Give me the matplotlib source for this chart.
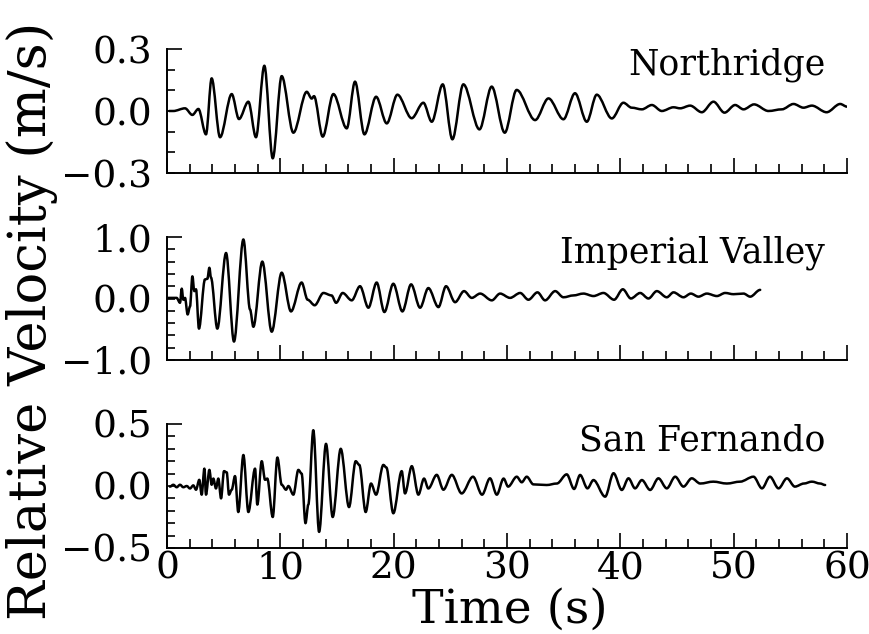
import matplotlib
matplotlib.use("Agg")
import matplotlib.pyplot as plt
from matplotlib.path import Path
from matplotlib.patches import PathPatch

plt.rcParams['font.family'] = ['DejaVu Serif']

# velocity traces, peaks/troughs (time in s, velocity in m/s)
t_nr = [0.2, 0.56, 1.59, 2.24, 2.77, 3.44, 3.94, 4.68, 5.71, 6.35,
        7.18, 7.85, 8.59, 9.33, 10.12, 11.15, 12.33, 12.77, 12.97, 13.74,
        14.68, 15.86, 16.59, 17.42, 18.45, 19.39, 20.33, 21.59, 22.62, 23.36,
        24.33, 25.18, 26.15, 27.57, 28.65, 29.8, 30.85, 32.48, 33.66, 34.98,
        36.0, 37.04, 37.92, 39.25, 40.27, 41.0, 41.9, 42.78, 43.66, 44.69,
        45.28, 46.16, 47.19, 48.22, 49.19, 50.13, 50.87, 51.8, 53.07, 54.25,
        55.28, 56.16, 56.9, 58.2, 59.4, 60.0]
v_nr = [0.0, 0.0, 0.013, -0.019, 0.010, -0.113, 0.158, -0.127, 0.082, -0.039,
        0.045, -0.127, 0.219, -0.229, 0.169, -0.105, 0.093, 0.06, 0.072, -0.124,
        0.082, -0.084, 0.142, -0.113, 0.069, -0.060, 0.079, -0.035, 0.040, -0.052,
        0.129, -0.137, 0.129, -0.089, 0.118, -0.105, 0.102, -0.044, 0.061, -0.040,
        0.086, -0.052, 0.079, -0.036, 0.040, 0.016, 0.008, 0.029, 0.0, 0.018,
        0.013, 0.026, -0.006, 0.045, -0.008, 0.029, 0.008, 0.032, 0.0, 0.008,
        0.034, 0.016, 0.026, -0.006, 0.034, 0.021]

t_iv = [0.12, 0.85, 1.15, 1.3, 1.44, 1.59, 1.82, 2.03, 2.24, 2.41,
        2.56, 2.82, 3.35, 3.56, 3.74, 3.88, 4.44, 5.21, 5.91, 6.74,
        7.33, 7.62, 8.41, 9.24, 10.12, 10.94, 11.88, 12.41, 13.03, 13.8,
        14.52, 14.92, 15.5, 16.3, 17.03, 17.77, 18.5, 19.18, 19.97, 20.77,
        21.54, 22.33, 23.06, 23.95, 24.62, 25.42, 26.21, 26.89, 27.63, 28.66,
        29.39, 30.27, 31.16, 31.89, 32.69, 33.36, 34.25, 34.98, 35.86, 36.74,
        37.63, 38.51, 39.45, 40.22, 40.93, 41.75, 42.48, 43.22, 44.1, 44.69,
        45.57, 46.22, 46.89, 47.63, 48.52, 49.25, 49.98, 50.87, 51.46, 52.34]
v_iv = [0.01, 0.01, -0.07, 0.16, -0.02, 0.01, -0.26, -0.13, 0.36, 0.12,
        0.15, -0.49, 0.31, 0.32, 0.50, 0.34, -0.49, 0.74, -0.70, 0.96,
        -0.18, -0.46, 0.60, -0.54, 0.42, -0.21, 0.26, -0.02, -0.11, 0.09,
        0.05, -0.07, 0.09, -0.03, 0.20, -0.15, 0.26, -0.22, 0.24, -0.21,
        0.23, -0.15, 0.17, -0.14, 0.20, -0.06, 0.12, 0.01, 0.08, -0.03,
        0.08, 0.01, 0.09, -0.02, 0.10, -0.03, 0.12, 0.02, 0.05, 0.08,
        0.04, 0.09, -0.02, 0.15, 0.0, 0.09, 0.0, 0.12, 0.02, 0.10,
        0.02, 0.08, 0.03, 0.08, 0.04, 0.09, 0.07, 0.08, 0.03, 0.14]

t_sf = [0.26, 0.56, 0.85, 1.15, 1.44, 1.74, 2.03, 2.32, 2.56, 2.85,
        3.06, 3.30, 3.44, 3.74, 3.94, 4.09, 4.32, 4.53, 4.77, 5.03,
        5.27, 5.47, 5.71, 6.00, 6.29, 6.74, 7.18, 7.77, 7.97, 8.36,
        8.65, 8.85, 9.33, 9.74, 10.12, 10.50, 10.71, 11.15, 11.59, 11.88,
        12.22, 12.47, 12.91, 13.42, 14.03, 14.62, 15.33, 16.06, 16.65, 16.97,
        17.53, 18.00, 18.45, 19.09, 19.35, 19.97, 20.71, 21.00, 21.60, 22.18,
        22.68, 23.06, 23.80, 24.39, 25.13, 26.00, 27.00, 27.80, 28.50, 29.10,
        29.70, 30.10, 30.86, 31.30, 31.74, 32.33, 33.50, 34.40, 35.27, 35.92,
        36.45, 37.10, 37.63, 38.66, 39.40, 40.13, 40.72, 41.30, 41.90, 42.63,
        43.36, 44.10, 44.84, 45.57, 46.30, 47.05, 48.20, 49.40, 50.57, 51.75,
        52.50, 53.20, 53.96, 54.70, 55.40, 56.20, 56.90, 57.63, 58.07]
v_sf = [-0.005, 0.01, -0.01, 0.01, -0.01, 0.0, -0.02, 0.005, -0.03, 0.05,
        -0.07, 0.14, -0.07, 0.13, 0.01, 0.06, -0.02, 0.06, -0.10, 0.12,
        0.11, -0.07, -0.03, 0.08, -0.21, 0.25, -0.21, 0.14, -0.15, 0.20,
        0.05, 0.06, -0.25, 0.23, 0.01, -0.03, 0.0, -0.07, 0.13, 0.10,
        -0.30, -0.15, 0.45, -0.37, 0.34, -0.25, 0.30, -0.17, 0.20, 0.17,
        -0.21, 0.02, -0.07, 0.17, 0.15, -0.22, 0.12, -0.06, 0.16, -0.07,
        0.06, -0.02, 0.09, -0.03, 0.09, -0.06, 0.075, -0.07, 0.062, -0.07,
        0.06, -0.005, 0.075, 0.03, 0.075, 0.013, 0.008, 0.02, 0.094, -0.024,
        0.089, -0.019, 0.048, -0.086, 0.103, -0.032, 0.062, -0.019, 0.048, -0.032,
        0.062, -0.019, 0.075, -0.005, 0.062, 0.02, 0.035, 0.02, 0.035, 0.075,
        -0.019, 0.075, -0.019, 0.062, -0.005, 0.02, 0.035, 0.02, 0.008]

stations = ['Northridge', 'Imperial Valley', 'San Fernando']
y_limits = [0.3, 1.0, 0.5]
y_minor_steps = [0.1, 0.2, 0.1]
y_ticklabels = [['\u22120.3', '0.0', '0.3'],
                ['\u22121.0', '0.0', '1.0'],
                ['\u22120.5', '0.0', '0.5']]
x_ticks = [0, 10, 20, 30, 40, 50, 60]


def trace_path(t, v):
    # smooth curve through the read-off extrema (horizontal tangents at each point)
    verts = [(t[0], v[0])]
    codes = [Path.MOVETO]
    for i in range(1, len(t)):
        d = (t[i] - t[i - 1]) / 3.0
        verts += [(t[i - 1] + d, v[i - 1]), (t[i] - d, v[i]), (t[i], v[i])]
        codes += [Path.CURVE4] * 3
    return Path(verts, codes)


fig = plt.figure(figsize=(8.7, 6.34), dpi=100)
W, H = 870.0, 634.0
# axes boxes in pixels: (left, top, right, bottom)
boxes = [(167, 49, 847, 173), (167, 237, 847, 360), (167, 424, 847, 548)]
traces = [(t_nr, v_nr), (t_iv, v_iv), (t_sf, v_sf)]

for i, (l, tp, r, b) in enumerate(boxes):
    ax = fig.add_axes([l / W, 1 - b / H, (r - l) / W, (b - tp) / H])
    t, v = traces[i]
    ax.add_patch(PathPatch(trace_path(t, v), fill=False, lw=1.8, color='black',
                           capstyle='round', joinstyle='round'))
    lim = y_limits[i]
    ax.set_xlim(0, 60)
    ax.set_ylim(-lim, lim)
    for s in ['top', 'right']:
        ax.spines[s].set_visible(False)
    for s in ['left', 'bottom']:
        ax.spines[s].set_linewidth(1.4)

    ax.set_xticks(x_ticks)
    ax.set_xticks(range(0, 61, 2), minor=True)
    ax.set_yticks([-lim, 0, lim], labels=y_ticklabels[i])
    step = y_minor_steps[i]
    n = int(round(2 * lim / step))
    ax.set_yticks([-lim + k * step for k in range(n + 1)], minor=True)

    ax.tick_params(axis='x', which='major', direction='in', length=11, width=1.2,
                   labelsize=27, pad=2, labelbottom=(i == 2))
    ax.tick_params(axis='x', which='minor', direction='in', length=6.5, width=1.2)
    ax.tick_params(axis='y', which='major', direction='in', length=6, width=1.2,
                   labelsize=27, pad=11)
    ax.tick_params(axis='y', which='minor', direction='in', length=6, width=1.2)
    ax.yaxis.get_major_ticks()[-1].tick1line.set_markersize(11)

    ax.text(0.968, 0.87, stations[i], transform=ax.transAxes, ha='right',
            va='center', fontsize=25)

fig.text(510 / W, 1 - 610 / H, 'Time (s)', ha='center', va='center', fontsize=34)
fig.text(32 / W, 1 - 620 / H, 'Relative Velocity (m/s)', rotation=90,
         rotation_mode='anchor', ha='left', va='center', fontsize=38)

fig.savefig('out.png', dpi=100)
